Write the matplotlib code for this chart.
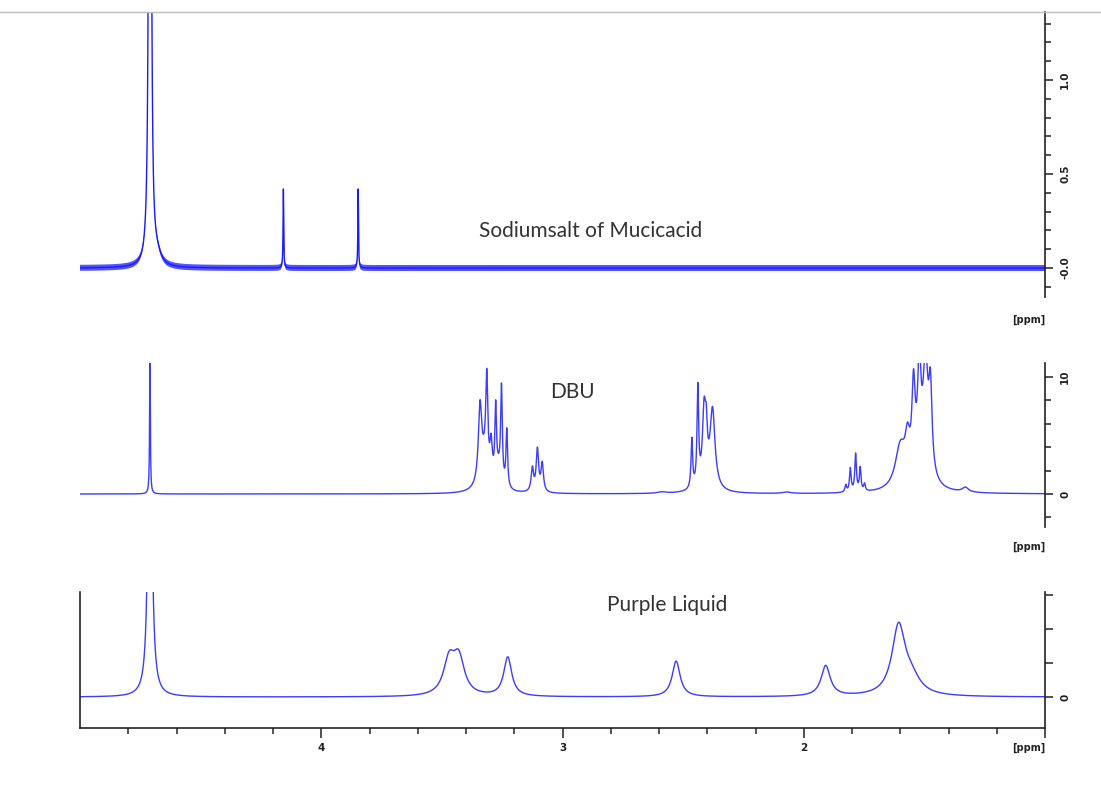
import numpy as np
import matplotlib.pyplot as plt
from matplotlib.lines import Line2D
from matplotlib.ticker import FixedLocator, FixedFormatter, NullLocator

# peak tables: centre (ppm), height, half width (ppm)
muc_pos = [4.710, 4.680, 4.157, 3.847]
muc_h = [11.0, 0.05, 0.42, 0.42]
muc_w = [0.003, 0.02, 0.0015, 0.0015]
muc_noise = 0.016

dbu_pos = [4.710,
           3.342, 3.314, 3.325, 3.296, 3.277, 3.253, 3.231, 3.265,
           3.125, 3.104, 3.084,
           2.590, 2.464, 2.439, 2.413, 2.404, 2.378, 2.400, 2.070,
           1.826, 1.807, 1.785, 1.766, 1.748,
           1.600, 1.570, 1.545, 1.521, 1.495, 1.475, 1.515, 1.330]
dbu_h = [12.0,
         6.2, 7.8, 2.5, 3.0, 6.0, 7.9, 4.9, 1.5,
         2.0, 3.6, 2.4,
         0.12, 4.2, 8.3, 6.0, 3.0, 6.5, 0.8, 0.12,
         0.6, 2.0, 3.2, 2.0, 0.6,
         3.5, 3.0, 7.0, 8.0, 9.0, 7.0, 2.0, 0.4]
dbu_w = [0.0018,
         0.008, 0.005, 0.02, 0.006, 0.004, 0.004, 0.004, 0.015,
         0.006, 0.006, 0.006,
         0.02, 0.004, 0.004, 0.008, 0.005, 0.012, 0.03, 0.02,
         0.004, 0.004, 0.004, 0.004, 0.004,
         0.025, 0.012, 0.008, 0.008, 0.012, 0.008, 0.035, 0.015]

pur_pos = [4.710, 3.470, 3.430, 3.227, 2.529, 1.909, 1.607, 1.555]
pur_h = [12.0, 1.0, 1.05, 1.15, 1.05, 0.9, 2.0, 0.45]
pur_w = [0.008, 0.028, 0.028, 0.02, 0.02, 0.023, 0.033, 0.045]

labels = ['Sodiumsalt of Mucicacid', 'DBU', 'Purple Liquid']

ppm = np.linspace(5.0, 1.0, 16001)


def spectrum(pos, h, w):
    y = np.zeros_like(ppm)
    for p, a, g in zip(pos, h, w):
        y += a * g**2 / ((ppm - p)**2 + g**2)
    return y


W, H = 1101, 789
fig = plt.figure(figsize=(W / 100, H / 100), dpi=100)
blue = '#1a1aff'
dark = '#222222'
left = 80 / W
width = (1045 - 80) / W


def panel(top_px, bot_px):
    return fig.add_axes([left, 1 - bot_px / H, width, (bot_px - top_px) / H])


def style_right(ax, majors, labs, minors):
    for s in ['top', 'left', 'bottom']:
        ax.spines[s].set_visible(False)
    ax.spines['right'].set_color(dark)
    ax.spines['right'].set_linewidth(1.2)
    ax.yaxis.tick_right()
    ax.yaxis.set_major_locator(FixedLocator(majors))
    ax.yaxis.set_major_formatter(FixedFormatter(labs))
    ax.yaxis.set_minor_locator(FixedLocator(minors))
    ax.tick_params(axis='y', which='major', direction='out', length=6, width=1.1,
                   color=dark, labelsize=7.5, labelcolor=dark, pad=5)
    ax.tick_params(axis='y', which='minor', direction='out', length=4, width=1.1, color=dark)
    for t in ax.get_yticklabels():
        t.set_rotation(90)
        t.set_fontweight('bold')
        t.set_va('center')
    ax.set_xlim(5.0, 1.0)


# top: sodium salt of mucic acid
ax1 = panel(12, 297)
y1 = spectrum(muc_pos, muc_h, muc_w)
ax1.fill_between(ppm, y1 - muc_noise, y1 + muc_noise, color=blue, lw=0, alpha=0.75)
ax1.plot(ppm, y1, color=blue, lw=1.0)
ax1.set_ylim(-0.154, 1.362)
style_right(ax1, [0.0, 0.5, 1.0], ['-0.0', '0.5', '1.0'],
            [-0.1, 0.1, 0.2, 0.3, 0.4, 0.6, 0.7, 0.8, 0.9, 1.1, 1.2, 1.3])
ax1.xaxis.set_major_locator(NullLocator())

# middle: DBU
ax2 = panel(363, 527)
y2 = spectrum(dbu_pos, dbu_h, dbu_w)
ax2.plot(ppm, y2, color=blue, lw=1.0, alpha=0.85)
ax2.set_ylim(-2.82, 11.2)
style_right(ax2, [0, 10], ['0', '10'], [-2, 2, 4, 6, 8])
ax2.xaxis.set_major_locator(NullLocator())

# bottom: purple liquid
ax3 = panel(592, 728)
y3 = spectrum(pur_pos, pur_h, pur_w)
ax3.plot(ppm, y3, color=blue, lw=1.0, alpha=0.85)
ax3.set_ylim(-0.91, 3.09)
style_right(ax3, [0, 1, 2, 3], ['0', '', '', ''], [])
ax3.spines['left'].set_visible(True)
ax3.spines['bottom'].set_visible(True)
for s in ['left', 'bottom']:
    ax3.spines[s].set_color(dark)
    ax3.spines[s].set_linewidth(1.2)
ax3.xaxis.set_major_locator(FixedLocator([4, 3, 2, 1]))
ax3.xaxis.set_major_formatter(FixedFormatter(['4', '3', '2', '']))
ax3.xaxis.set_minor_locator(FixedLocator([4.8, 4.6, 4.4, 4.2, 3.8, 3.6, 3.4, 3.2,
                                          2.8, 2.6, 2.4, 2.2, 1.8, 1.6, 1.4, 1.2]))
ax3.tick_params(axis='x', which='major', direction='out', length=7, width=1.1,
                color=dark, labelsize=7.5, labelcolor=dark, pad=4)
ax3.tick_params(axis='x', which='minor', direction='out', length=4, width=1.1, color=dark)
for t in ax3.get_xticklabels():
    t.set_fontweight('bold')

# [ppm] captions
for ypx in [320, 547, 748]:
    fig.text(1045 / W, 1 - ypx / H, '[ppm]', ha='right', va='center',
             fontsize=7, fontweight='bold', color=dark)

# sample names
for (xpx, ypx), lab in zip([(591, 231), (572, 392), (667, 605)], labels):
    fig.text(xpx / W, 1 - ypx / H, lab, ha='center', va='center',
             fontsize=15, color='#333333', family=['Lato', 'DejaVu Sans'])

# thin grey border line at the top of the screenshot
fig.add_artist(Line2D([0, 1], [1 - 12 / H] * 2, color='#bbbbbb', lw=1))

fig.savefig('out.png', dpi=100)
